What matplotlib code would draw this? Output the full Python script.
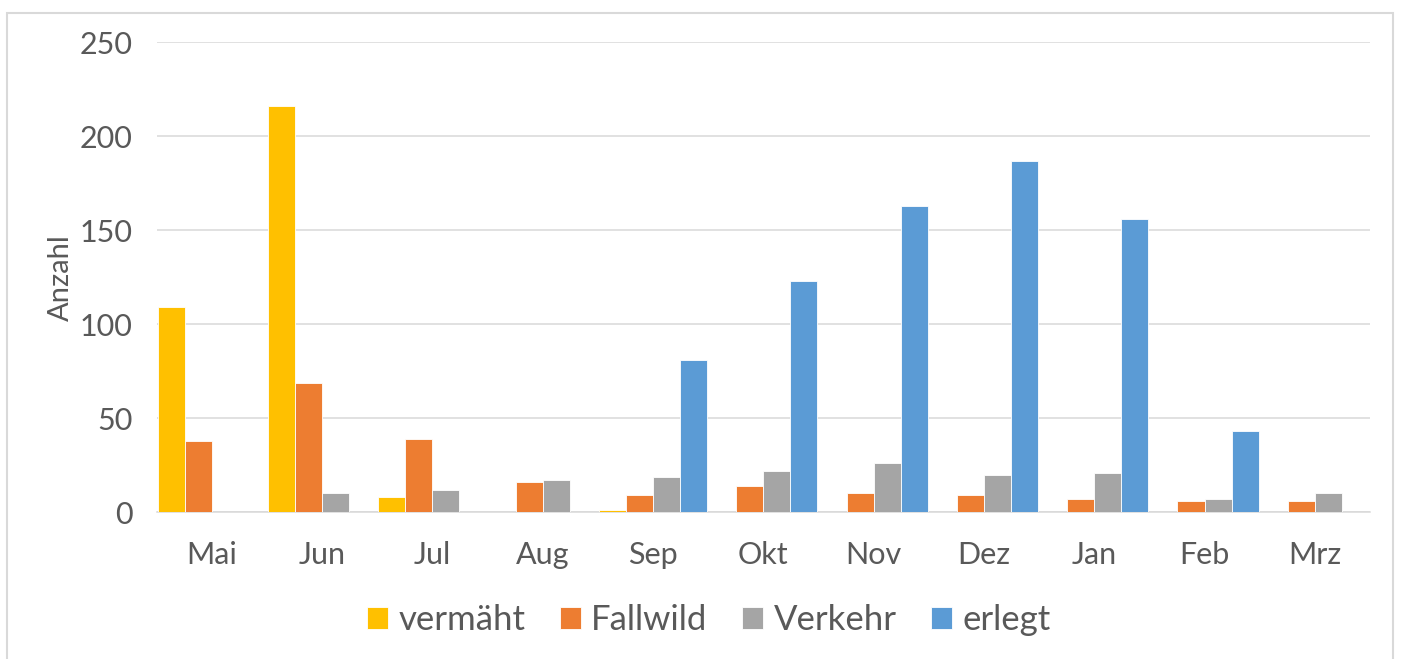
import matplotlib
matplotlib.use("Agg")
import matplotlib.pyplot as plt
import numpy as np
from matplotlib.patches import Rectangle

months = ["Mai", "Jun", "Jul", "Aug", "Sep", "Okt", "Nov", "Dez", "Jan", "Feb", "Mrz"]
series_names = ["vermäht", "Fallwild", "Verkehr", "erlegt"]
vermaeht = [109, 216, 8, 0, 1, 0, 0, 0, 0, 0, 0]
fallwild = [38, 69, 39, 16, 9, 14, 10, 9, 7, 6, 6]
verkehr = [0, 10, 12, 17, 19, 22, 26, 20, 21, 7, 10]
erlegt = [0, 0, 0, 0, 81, 123, 163, 187, 156, 43, 0]
colors = ["#FFC000", "#ED7D31", "#A5A5A5", "#5B9BD5"]
yticks = [0, 50, 100, 150, 200, 250]
ylabel = "Anzahl"

TXT = "#595959"
GRID = "#D9D9D9"
plt.rcParams['font.family'] = ['Lato', 'DejaVu Sans']

W, H = 1402, 659
fig = plt.figure(figsize=(W / 100, H / 100), dpi=100)
ax = fig.add_axes([156.5 / W, (H - 512.3) / H, (1370 - 156.5) / W, (512.3 - 42.3) / H])

x = np.arange(len(months))
bw = 0.245
for i, (vals, name, c) in enumerate(zip([vermaeht, fallwild, verkehr, erlegt], series_names, colors)):
    ax.bar(x + (i - 1.5) * bw, vals, bw, color=c, label=name,
           edgecolor='white', linewidth=0.6, zorder=3)

ax.set_xlim(-0.5, len(months) - 0.5)
ax.set_ylim(0, 250)
ax.set_yticks(yticks)
ax.set_xticks(x)
ax.set_xticklabels(months)
ax.yaxis.grid(True, color=GRID, linewidth=1.1, zorder=0)
ax.set_axisbelow(True)
for s in ['top', 'right', 'left']:
    ax.spines[s].set_visible(False)
ax.spines['bottom'].set_color(GRID)
ax.spines['bottom'].set_linewidth(1.1)
ax.tick_params(axis='both', length=0, labelsize=22, labelcolor=TXT)
ax.tick_params(axis='y', pad=17)
ax.tick_params(axis='x', pad=21)
ax.set_ylabel(ylabel, fontsize=21, color=TXT, labelpad=4)

leg = fig.legend(loc='center', bbox_to_anchor=(709 / W, 1 - 620 / H), ncol=4, frameon=False,
                 fontsize=25, handlelength=0.6, handleheight=0.6, handletextpad=0.3,
                 columnspacing=1.0, labelcolor=TXT)

fig.add_artist(Rectangle((6.5 / W, -0.1), (1392.5 - 6.5) / W, (H - 12.5) / H + 0.1,
                         transform=fig.transFigure, fill=False, ec=GRID, lw=1.5))

fig.savefig("out.png", dpi=100, facecolor='white')
